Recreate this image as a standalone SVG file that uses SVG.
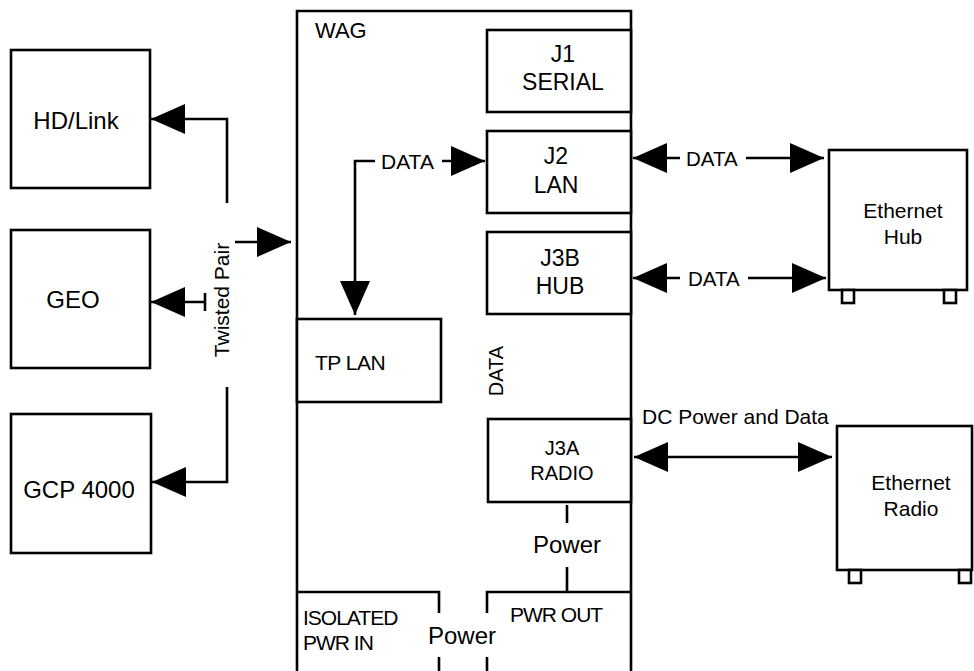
<svg xmlns="http://www.w3.org/2000/svg" width="974" height="671" viewBox="0 0 974 671">
<defs>
<marker id="ah" viewBox="0 0 34 30" refX="34" refY="15" markerWidth="34" markerHeight="30" markerUnits="userSpaceOnUse" orient="auto-start-reverse">
<path d="M0,0 L34,15 L0,30 Z" fill="#000"/>
</marker>
</defs>
<style>
.box{fill:#fff;stroke:#000;stroke-width:2.6}
.ln{fill:none;stroke:#000;stroke-width:2.6}
.t{font-family:"Liberation Sans",Arial,sans-serif;fill:#000}
.c{text-anchor:middle}
.s20{font-size:20px}
.s21{font-size:21px}
.s23{font-size:23px}
.s24{font-size:24px}
.tight{letter-spacing:-1px}
</style>
<rect width="974" height="671" fill="#fff"/>
<g id="hdlink"><rect class="box" x="11" y="50" width="139" height="138"/><text class="t s24 c" x="76" y="129">HD/Link</text></g>
<g id="geo"><rect class="box" x="11" y="230" width="139" height="138"/><text class="t s24 c" x="73" y="308">GEO</text></g>
<g id="gcp4000"><rect class="box" x="11" y="414" width="140" height="139"/><text class="t s24 c" x="79" y="498">GCP 4000</text></g>
<g id="wag"><path class="ln" d="M297,680 V11 H631 V680" stroke-width="3"/><text class="t" font-size="22" x="315" y="38">WAG</text></g>
<g id="j1"><rect class="box" x="487" y="30" width="144" height="82"/><text class="t s23 c" x="563" y="62">J1</text><text class="t s23 c" x="563" y="90">SERIAL</text></g>
<g id="j2"><rect class="box" x="487" y="131" width="144" height="82"/><text class="t s23 c" x="556" y="164">J2</text><text class="t s23 c" x="556" y="193">LAN</text></g>
<g id="j3b"><rect class="box" x="487" y="232" width="144" height="82"/><text class="t s23 c" x="560" y="266">J3B</text><text class="t s23 c" x="560" y="294">HUB</text></g>
<g id="tplan"><rect class="box" x="297" y="319" width="144" height="83"/><text class="t s21" x="315" y="370" letter-spacing="-0.5">TP LAN</text></g>
<g id="j3a"><rect class="box" x="488" y="419" width="143" height="83"/><text class="t s20 c" x="562" y="455">J3A</text><text class="t s20 c" x="562" y="480">RADIO</text></g>
<g id="isolated"><path class="ln" d="M297,592 H439 V613 M439,657 V680"/><text class="t s21 tight" x="303" y="625">ISOLATED</text><text class="t s21 tight" x="303" y="650">PWR IN</text></g>
<g id="pwrout"><path class="ln" d="M487,613 V592 H631 M487,657 V680"/><text class="t s21 tight" x="510" y="622">PWR OUT</text></g>
<g id="hub"><rect class="box" x="829" y="150" width="138" height="140"/><rect class="box" x="842" y="290" width="12" height="13" stroke-width="2"/><rect class="box" x="944" y="290" width="12" height="13" stroke-width="2"/><text class="t s21 c" x="903" y="218">Ethernet</text><text class="t s21 c" x="903" y="244">Hub</text></g>
<g id="radio"><rect class="box" x="837" y="426" width="135" height="144"/><rect class="box" x="849" y="570" width="12" height="13" stroke-width="2"/><rect class="box" x="959" y="570" width="12" height="13" stroke-width="2"/><text class="t s21 c" x="911" y="490">Ethernet</text><text class="t s21 c" x="911" y="516">Radio</text></g>
<g id="connectors">
<path class="ln" d="M227,203 V119 H151" marker-end="url(#ah)"/>
<path class="ln" d="M205,302 H151" marker-end="url(#ah)"/>
<path class="ln" d="M205,293 V311"/>
<path class="ln" d="M227,387 V482 H152" marker-end="url(#ah)"/>
<path class="ln" d="M235,242 H291" marker-end="url(#ah)"/>
<text class="t s21 c" transform="translate(229,300) rotate(-90)">Twisted Pair</text>
<path class="ln" d="M375,161 H355 V315" marker-end="url(#ah)"/>
<text class="t s21" x="381" y="169">DATA</text>
<path class="ln" d="M442,161 H485" marker-end="url(#ah)"/>
<path class="ln" d="M633,158 H680" marker-start="url(#ah)"/>
<text class="t" font-size="20.5" x="686" y="166">DATA</text>
<path class="ln" d="M746,158 H824" marker-end="url(#ah)"/>
<path class="ln" d="M633,278 H680" marker-start="url(#ah)"/>
<text class="t" font-size="20.5" x="688" y="286">DATA</text>
<path class="ln" d="M748,278 H826" marker-end="url(#ah)"/>
<text class="t s20 c" transform="translate(503,371) rotate(-90)">DATA</text>
<text class="t s21" x="642" y="424">DC Power and Data</text>
<path class="ln" d="M634,457 H832" marker-start="url(#ah)" marker-end="url(#ah)"/>
<path class="ln" d="M567,505 V523 M567,567 V592"/>
<text class="t s24 c" x="567" y="553">Power</text>
<text class="t s24 c" x="462" y="644">Power</text>
</g>
</svg>
